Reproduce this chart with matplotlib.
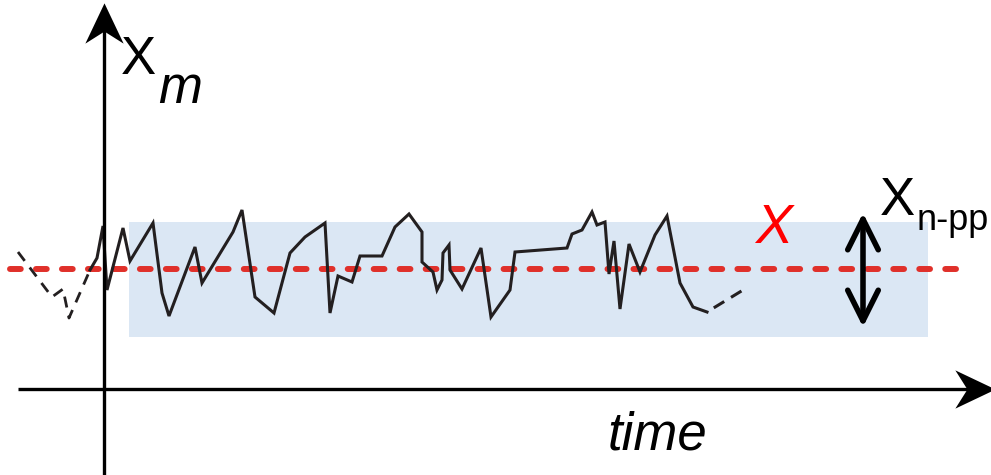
import matplotlib
matplotlib.use("Agg")
import matplotlib.pyplot as plt
from matplotlib.patches import FancyArrowPatch, Rectangle
from matplotlib.path import Path
from matplotlib.markers import MarkerStyle
from matplotlib.transforms import Affine2D

# ---- data (image pixel coordinates) ----
signal_x = [90, 97, 103, 107, 123, 130, 153, 162, 169, 195, 202, 233, 242, 255, 274, 290, 305, 325,
            330, 338, 352, 360, 382, 395, 409, 422, 422, 433, 437, 442, 443, 449, 450, 462, 481, 491,
            510, 515, 567, 572, 582, 592, 597, 605, 609, 614, 620, 629, 640, 655, 667, 680, 693, 707]
signal_y = [270, 258, 226, 290, 228, 261, 223, 293, 316, 247, 283, 232, 210, 297, 313, 253, 237, 223,
            313, 276, 282, 256, 256, 227, 214, 232, 262, 272, 290, 280, 253, 245, 270, 289, 248, 317,
            290, 252, 248, 234, 230, 212, 225, 222, 274, 241, 309, 244, 272, 235, 216, 283, 307, 312]
pre_x = [18, 52, 63, 69, 90]
pre_y = [252, 297, 289, 318, 270]
post_x = [707, 748]
post_y = [312, 287]

mean_level = 269
mean_x = [10, 958]
band_x = [129, 928]
band_y = [222, 337]
range_x = 863
range_y = [213, 327]

yaxis_x = 104
yaxis_y = [475, 7]
xaxis_y = 389
xaxis_x = [18, 990]

W, H = 991, 475
fig = plt.figure(figsize=(W / 100, H / 100), dpi=100)
ax = fig.add_axes([0, 0, 1, 1])
ax.set_xlim(0, W)
ax.set_ylim(H, 0)
ax.axis("off")

# band
ax.add_patch(Rectangle((band_x[0], band_y[0]), band_x[1] - band_x[0], band_y[1] - band_y[0],
                       facecolor="#dbe7f4", edgecolor="none", zorder=1))

# mean dashed red line
ax.plot(mean_x, [mean_level, mean_level], color="#e0302a", lw=4.3,
        dashes=(1.8, 2.55), dash_capstyle="round", zorder=2)

# signal
ax.plot(signal_x, signal_y, color="#231f20", lw=2.2, solid_joinstyle="miter", zorder=3)
ax.plot(pre_x, pre_y, color="#231f20", lw=2.0, dashes=(4.0, 3.0), zorder=3)
ax.plot(post_x, post_y, color="#231f20", lw=2.2, linestyle=(4.0, (4.0, 2.6)), zorder=3)

# axes lines with stealth arrowheads (marker path)
head = Path([(0, 1), (-0.95, -1), (0, -0.4), (0.95, -1), (0, 1)],
            [Path.MOVETO, Path.LINETO, Path.LINETO, Path.LINETO, Path.CLOSEPOLY])
head_len_px = 31
head_pt = head_len_px * 0.72 * 1.3

ax.plot([yaxis_x, yaxis_x], [yaxis_y[0], yaxis_y[1] + 22], color="black", lw=2.4, zorder=4,
        solid_capstyle="butt")
ax.plot([yaxis_x], [yaxis_y[1] + head_len_px / 2], marker=MarkerStyle(head), markersize=head_pt,
        color="black", markeredgewidth=0, zorder=4)

ax.plot([xaxis_x[0], xaxis_x[1] - 22], [xaxis_y, xaxis_y], color="black", lw=2.4, zorder=4,
        solid_capstyle="butt")
ax.plot([xaxis_x[1] - head_len_px / 2], [xaxis_y],
        marker=MarkerStyle(head, transform=Affine2D().rotate_deg(-90)), markersize=head_pt,
        color="black", markeredgewidth=0, zorder=4)

# range double arrow
ra = FancyArrowPatch((range_x, range_y[0]), (range_x, range_y[1]),
                     arrowstyle="<->,head_length=22,head_width=11",
                     mutation_scale=1, lw=4, color="black", shrinkA=0, shrinkB=0,
                     capstyle="round", joinstyle="round", zorder=5)
ax.add_patch(ra)

fam = ["Liberation Sans", "DejaVu Sans"]
ax.text(121, 74, "X", fontsize=38, family=fam, ha="left", va="baseline")
ax.text(158, 103, "m", fontsize=38, family=fam, style="italic", ha="left", va="baseline")
ax.text(608, 449, "time", fontsize=38, family=fam, style="italic", ha="left", va="baseline")
ax.text(755, 243, "X", fontsize=40, family=fam, style="italic", color="#ff0000",
        ha="left", va="baseline")
ax.text(880, 215, "X", fontsize=38, family=fam, ha="left", va="baseline")
ax.text(917, 230, "n-pp", fontsize=26, family=fam, ha="left", va="baseline")

fig.savefig("out.png", dpi=100)
